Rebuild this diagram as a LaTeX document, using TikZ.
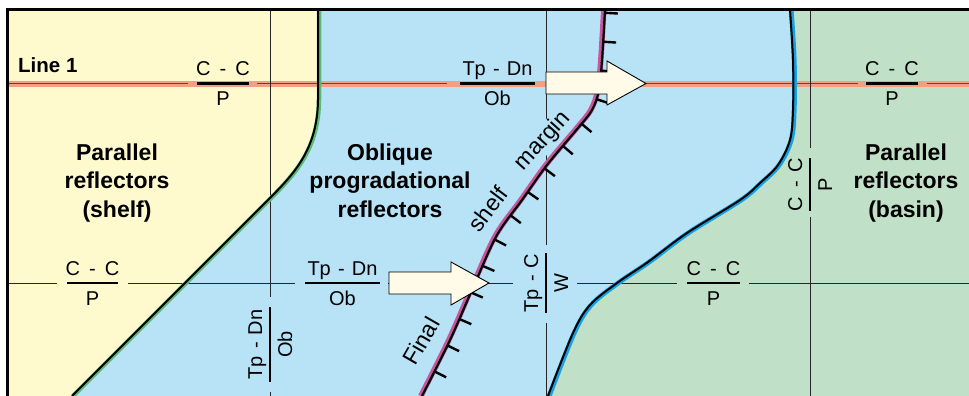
\documentclass[tikz,border=0pt]{standalone}
\usepackage{fontspec}
\setmainfont{Liberation Sans}
\usetikzlibrary{decorations.markings}
\definecolor{yel}{RGB}{255,250,206}
\definecolor{blu}{RGB}{184,227,247}
\definecolor{grn}{RGB}{192,224,200}
\definecolor{salm}{RGB}{244,160,128}
\definecolor{salmline}{RGB}{120,62,48}
\definecolor{cream}{RGB}{255,251,232}
\definecolor{edgegrn}{RGB}{90,185,120}
\definecolor{edgeblu}{RGB}{25,160,225}
\definecolor{edgemag}{RGB}{200,85,160}
\newcommand\ccsp{\hspace{0.45em}}
\newcommand\tpsp{\hspace{0.36em}}
\tikzset{
  reg/.style={font=\fontsize{20}{24}\selectfont, inner sep=0pt},
  rotlab/.style={font=\fontsize{23}{27}\selectfont, inner sep=0pt},
  boldlab/.style={font=\fontsize{23}{28}\selectfont\bfseries, inner sep=0pt, anchor=base},
  fbar/.style={line width=2.2pt, black},
  gridl/.style={line width=1pt, black!85},
  thinl/.style={line width=0.9pt, salmline},
  blockarrow/.style={draw=black, line width=0.9pt, fill=cream, line join=miter},
  ticked/.style={postaction={decorate}, decoration={markings,
      mark=between positions 3pt and -3pt step 29pt with {\draw[line width=2.4pt, black] (0pt,0pt) -- (0pt,13pt);}}}
}
\begin{document}
\begin{tikzpicture}[x=1pt,y=-1pt]
\useasboundingbox (0,0) rectangle (969,396);
\fill[white] (0,0) rectangle (969,396);
\fill[blu] (7.6,9.8) rectangle (969,396);
% yellow region
\fill[yel] (7.6,9.8) -- (318,9.8) -- (318,100) .. controls (317.5,150) and (293,175) .. (268,200) -- (72,396) -- (7.6,396) -- cycle;
% green region
\fill[grn] (969,9.8) -- (790,9.8) -- plot[smooth,tension=0.55] coordinates {(790,9.8) (793,60) (793,110) (790,140) (778,165) (760,183) (740,200) (687,233) (648,262) (617,283) (590,305) (573,333) (548,396)} -- (969,396) -- cycle;
% line 1 band
\fill[salm] (7.6,80.5) rectangle (969,86.5);
\draw[thinl] (7.6,83.5) -- (188,83.5);
\draw[thinl] (257,83.5) -- (447,83.5);
\draw[thinl] (646,83.5) -- (858,83.5);
\draw[thinl] (927,83.5) -- (969,83.5);
% grid lines
\draw[gridl] (270,9.8) -- (270,297);
\draw[gridl] (270,392) -- (270,396);
\draw[gridl] (546,9.8) -- (546,245);
\draw[gridl] (546,323) -- (546,396);
\draw[gridl] (810,9.8) -- (810,148);
\draw[gridl] (810,217) -- (810,396);
\draw[gridl] (7.6,283) -- (57,283);
\draw[gridl] (128,283) -- (295,283);
\draw[gridl] (388,283) -- (513,283);
\draw[gridl] (577,283) -- (677,283);
\draw[gridl] (749,283) -- (969,283);
% fraction labels, line 1
\node[reg, anchor=base] (l1a) at (223,75.5) {C\ccsp-\ccsp C};
\draw[fbar] (197,83.5) -- (249,83.5);
\node[reg, anchor=base] (l1b) at (223,105.5) {P};
\node[reg, anchor=base] (l1c) at (497.5,75.5) {Tp\tpsp-\tpsp Dn};
\draw[fbar] (460,83.5) -- (535,83.5);
\node[reg, anchor=base] (l1d) at (497.5,105.5) {Ob};
\node[reg, anchor=base] (l1e) at (892,75.5) {C\ccsp-\ccsp C};
\draw[fbar] (866,83.5) -- (918,83.5);
\node[reg, anchor=base] (l1f) at (892,105.5) {P};
% fraction labels, line 2
\node[reg, anchor=base] (l2a) at (92.5,275) {C\ccsp-\ccsp C};
\draw[fbar] (67,283) -- (118,283);
\node[reg, anchor=base] (l2b) at (92.5,305) {P};
\node[reg, anchor=base] (l2c) at (342.5,275) {Tp\tpsp-\tpsp Dn};
\draw[fbar] (305,283) -- (380,283);
\node[reg, anchor=base] (l2d) at (342.5,305) {Ob};
\node[reg, anchor=base] (l2e) at (713.5,275) {C\ccsp-\ccsp C};
\draw[fbar] (687,283) -- (740,283);
\node[reg, anchor=base] (l2f) at (713.5,305) {P};
% vertical fraction labels
\node[reg, anchor=base, rotate=90] (v1a) at (262,344.5) {Tp\tpsp-\tpsp Dn};
\draw[fbar] (270,307) -- (270,382);
\node[reg, anchor=base, rotate=90] (v1b) at (292,344.5) {Ob};
\node[reg, anchor=base, rotate=90] (v2a) at (538,283) {Tp\tpsp-\tpsp C};
\draw[fbar] (546,253) -- (546,313);
\node[reg, anchor=base, rotate=90] (v2b) at (568,283) {W};
\node[reg, anchor=base, rotate=90] (v3a) at (802,184.5) {C\ccsp-\ccsp C};
\draw[fbar] (810,158) -- (810,211);
\node[reg, anchor=base, rotate=90] (v3b) at (832,184.5) {P};
% region titles
\node[font=\fontsize{20.5}{24}\selectfont\bfseries, inner sep=0pt, anchor=base west] (line1) at (18,73) {Line 1};
\node[boldlab] (t1a) at (117,160) {Parallel};
\node[boldlab] (t1b) at (117,188.5) {reflectors};
\node[boldlab] (t1c) at (117,217) {(shelf)};
\node[boldlab] (t2a) at (390,160) {Oblique};
\node[boldlab] (t2b) at (390,188.5) {progradational};
\node[boldlab] (t2c) at (390,217) {reflectors};
\node[boldlab] (t3a) at (906,160) {Parallel};
\node[boldlab] (t3b) at (906,188.5) {reflectors};
\node[boldlab] (t3c) at (906,217) {(basin)};
% shelf margin labels
\node[rotlab, rotate=48, fill=blu, inner sep=1.5pt] (mrg) at (543,141) {margin};
\node[rotlab, rotate=53] (shf) at (488,209) {shelf};
\node[rotlab, rotate=60] (fin) at (421,341) {Final};
% boundaries
\draw[edgegrn, line width=4.5pt, xshift=1pt] (318,9.8) -- (318,100) .. controls (317.5,150) and (293,175) .. (268,200) -- (72,396);
\draw[black, line width=2pt] (318,9.8) -- (318,100) .. controls (317.5,150) and (293,175) .. (268,200) -- (72,396);
\draw[edgeblu, line width=4.8pt, xshift=1.2pt] plot[smooth,tension=0.55] coordinates {(790,9.8) (793,60) (793,110) (790,140) (778,165) (760,183) (740,200) (687,233) (648,262) (617,283) (590,305) (573,333) (548,396)};
\draw[black, line width=2pt] plot[smooth,tension=0.55] coordinates {(790,9.8) (793,60) (793,110) (790,140) (778,165) (760,183) (740,200) (687,233) (648,262) (617,283) (590,305) (573,333) (548,396)};
% final shelf margin
\draw[edgemag, line width=5.5pt, xshift=-1.2pt] plot[smooth,tension=0.55] coordinates {(605,9.8) (602,60) (599,90) (592,110) (578,128) (547,165) (522,200) (497,235) (475,283) (450,340) (422,396)};
\draw[black, line width=2.2pt, ticked] plot[smooth,tension=0.55] coordinates {(605,9.8) (602,60) (599,90) (592,110) (578,128) (547,165) (522,200) (497,235) (475,283) (450,340) (422,396)};
% block arrows
\draw[blockarrow] (546,72) -- (607,72) -- (607,61) -- (646,83.5) -- (607,105) -- (607,94) -- (546,94) -- cycle;
\draw[blockarrow] (389,272) -- (451,272) -- (451,262) -- (489,283) -- (451,305) -- (451,294) -- (389,294) -- cycle;
% frame
\fill[white] (0,0) rectangle (969,8.5);
\fill[white] (0,0) rectangle (6.2,396);
\draw[black, line width=2.6pt] (6.2,9.8) -- (969,9.8);
\draw[black, line width=2.8pt] (7.6,8.5) -- (7.6,396);
\end{tikzpicture}
\end{document}
